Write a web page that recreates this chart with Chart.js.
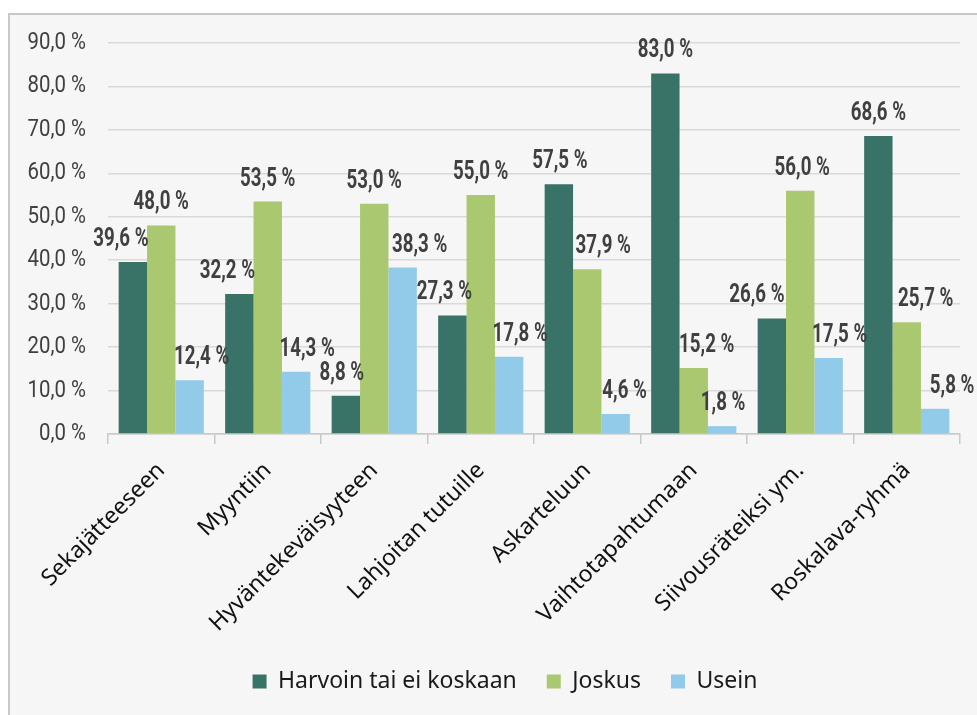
<!DOCTYPE html>
<html lang="fi">
<head>
<meta charset="UTF-8">
<title>Kaavio</title>
<script src="https://cdn.jsdelivr.net/npm/chart.js"></script>
<style>
  body { margin:0; background:#fff; overflow:hidden; width:977px; height:715px; }
  #frame { position:absolute; left:8px; top:13px; width:1000px; height:800px;
           background:#f6f6f6; border-left:2px solid #c8c8c8; border-top:2px solid #c8c8c8; }
  #wrap { position:absolute; left:0; top:0; }
</style>
</head>
<body>
<div id="frame"></div>
<div id="wrap"><canvas id="chart" width="977" height="735"></canvas></div>
<script>
const categories = ["Sekajätteeseen", "Myyntiin", "Hyväntekeväisyyteen", "Lahjoitan tutuille",
                    "Askarteluun", "Vaihtotapahtumaan", "Siivousräteiksi ym.", "Roskalava-ryhmä"];
const harvoin = [39.6, 32.2, 8.8, 27.3, 57.5, 83.0, 26.6, 68.6];
const joskus  = [48.0, 53.5, 53.0, 55.0, 37.9, 15.2, 56.0, 25.7];
const usein   = [12.4, 14.3, 38.3, 17.8, 4.6, 1.8, 17.5, 5.8];
const seriesNames = ["Harvoin tai ei koskaan", "Joskus", "Usein"];

// label nudges (px) so the texts sit like in the original
const labelNudge = [
  [-12, -12, -4, -8, 1, 0, -15, 0],
  [0, 0, 0, 0, 16, 13, 2, 19],
  [12, 11, 17, 11, 9, 1, 11, 17]
];

const fmt = v => v.toFixed(1).replace('.', ',') + ' %';

// draws the value above each bar, squeezed a bit to look like a narrow font
const valueLabels = {
  id: 'valueLabels',
  afterDatasetsDraw(chart) {
    const ctx = chart.ctx;
    chart.data.datasets.forEach((ds, i) => {
      chart.getDatasetMeta(i).data.forEach((bar, j) => {
        ctx.save();
        ctx.translate(bar.x + labelNudge[i][j], bar.y - 16);
        ctx.scale(0.72, 1);
        ctx.font = 'bold 26px Roboto, sans-serif';
        ctx.fillStyle = '#404040';
        ctx.textAlign = 'center';
        ctx.textBaseline = 'alphabetic';
        ctx.fillText(fmt(ds.data[j]), 0, 0);
        ctx.restore();
      });
    });
  }
};

// y tick texts, drawn here so they are not clipped by the narrow axis box
const yLabels = {
  id: 'yLabels',
  afterDraw(chart) {
    const ctx = chart.ctx;
    const y = chart.scales.y;
    y.ticks.forEach(t => {
      ctx.save();
      ctx.translate(chart.chartArea.left - 22, y.getPixelForValue(t.value));
      ctx.scale(0.85, 1);
      ctx.font = '24px Roboto, sans-serif';
      ctx.fillStyle = '#404040';
      ctx.textAlign = 'right';
      ctx.textBaseline = 'middle';
      ctx.fillText(fmt(t.value), 0, 0);
      ctx.restore();
    });
  }
};

new Chart(document.getElementById('chart'), {
  type: 'bar',
  data: {
    labels: categories,
    datasets: [
      { label: seriesNames[0], data: harvoin, backgroundColor: '#397266' },
      { label: seriesNames[1], data: joskus, backgroundColor: '#aac870' },
      { label: seriesNames[2], data: usein, backgroundColor: '#92caea' }
    ]
  },
  options: {
    responsive: false,
    animation: false,
    categoryPercentage: 0.8,
    barPercentage: 1.0,
    layout: { padding: { top: 43, right: 17, bottom: 32, left: 50 } },
    plugins: {
      tooltip: { enabled: false },
      legend: {
        position: 'bottom',
        labels: {
          boxWidth: 14, boxHeight: 14, padding: 30,
          color: '#1a1a1a',
          font: { family: '"Noto Sans", "Open Sans", sans-serif', size: 23 }
        }
      }
    },
    scales: {
      x: {
        afterFit(scale) { scale.height = 206; },
        grid: { drawOnChartArea: false, drawTicks: true, tickLength: 10, color: '#c8c8c8', lineWidth: 1.5 },
        border: { color: '#c8c8c8', width: 1.5 },
        ticks: {
          minRotation: 45, maxRotation: 45, padding: 13,
          color: '#111',
          font: { family: '"Noto Sans", "Open Sans", sans-serif', size: 23 }
        }
      },
      y: {
        min: 0, max: 90,
        afterFit(scale) { scale.width = 58; },
        grid: { color: '#d9d9d9', lineWidth: 1.5, drawTicks: false },
        border: { display: false },
        ticks: { stepSize: 10, display: false }
      }
    }
  },
  plugins: [valueLabels, yLabels]
});
</script>
</body>
</html>
